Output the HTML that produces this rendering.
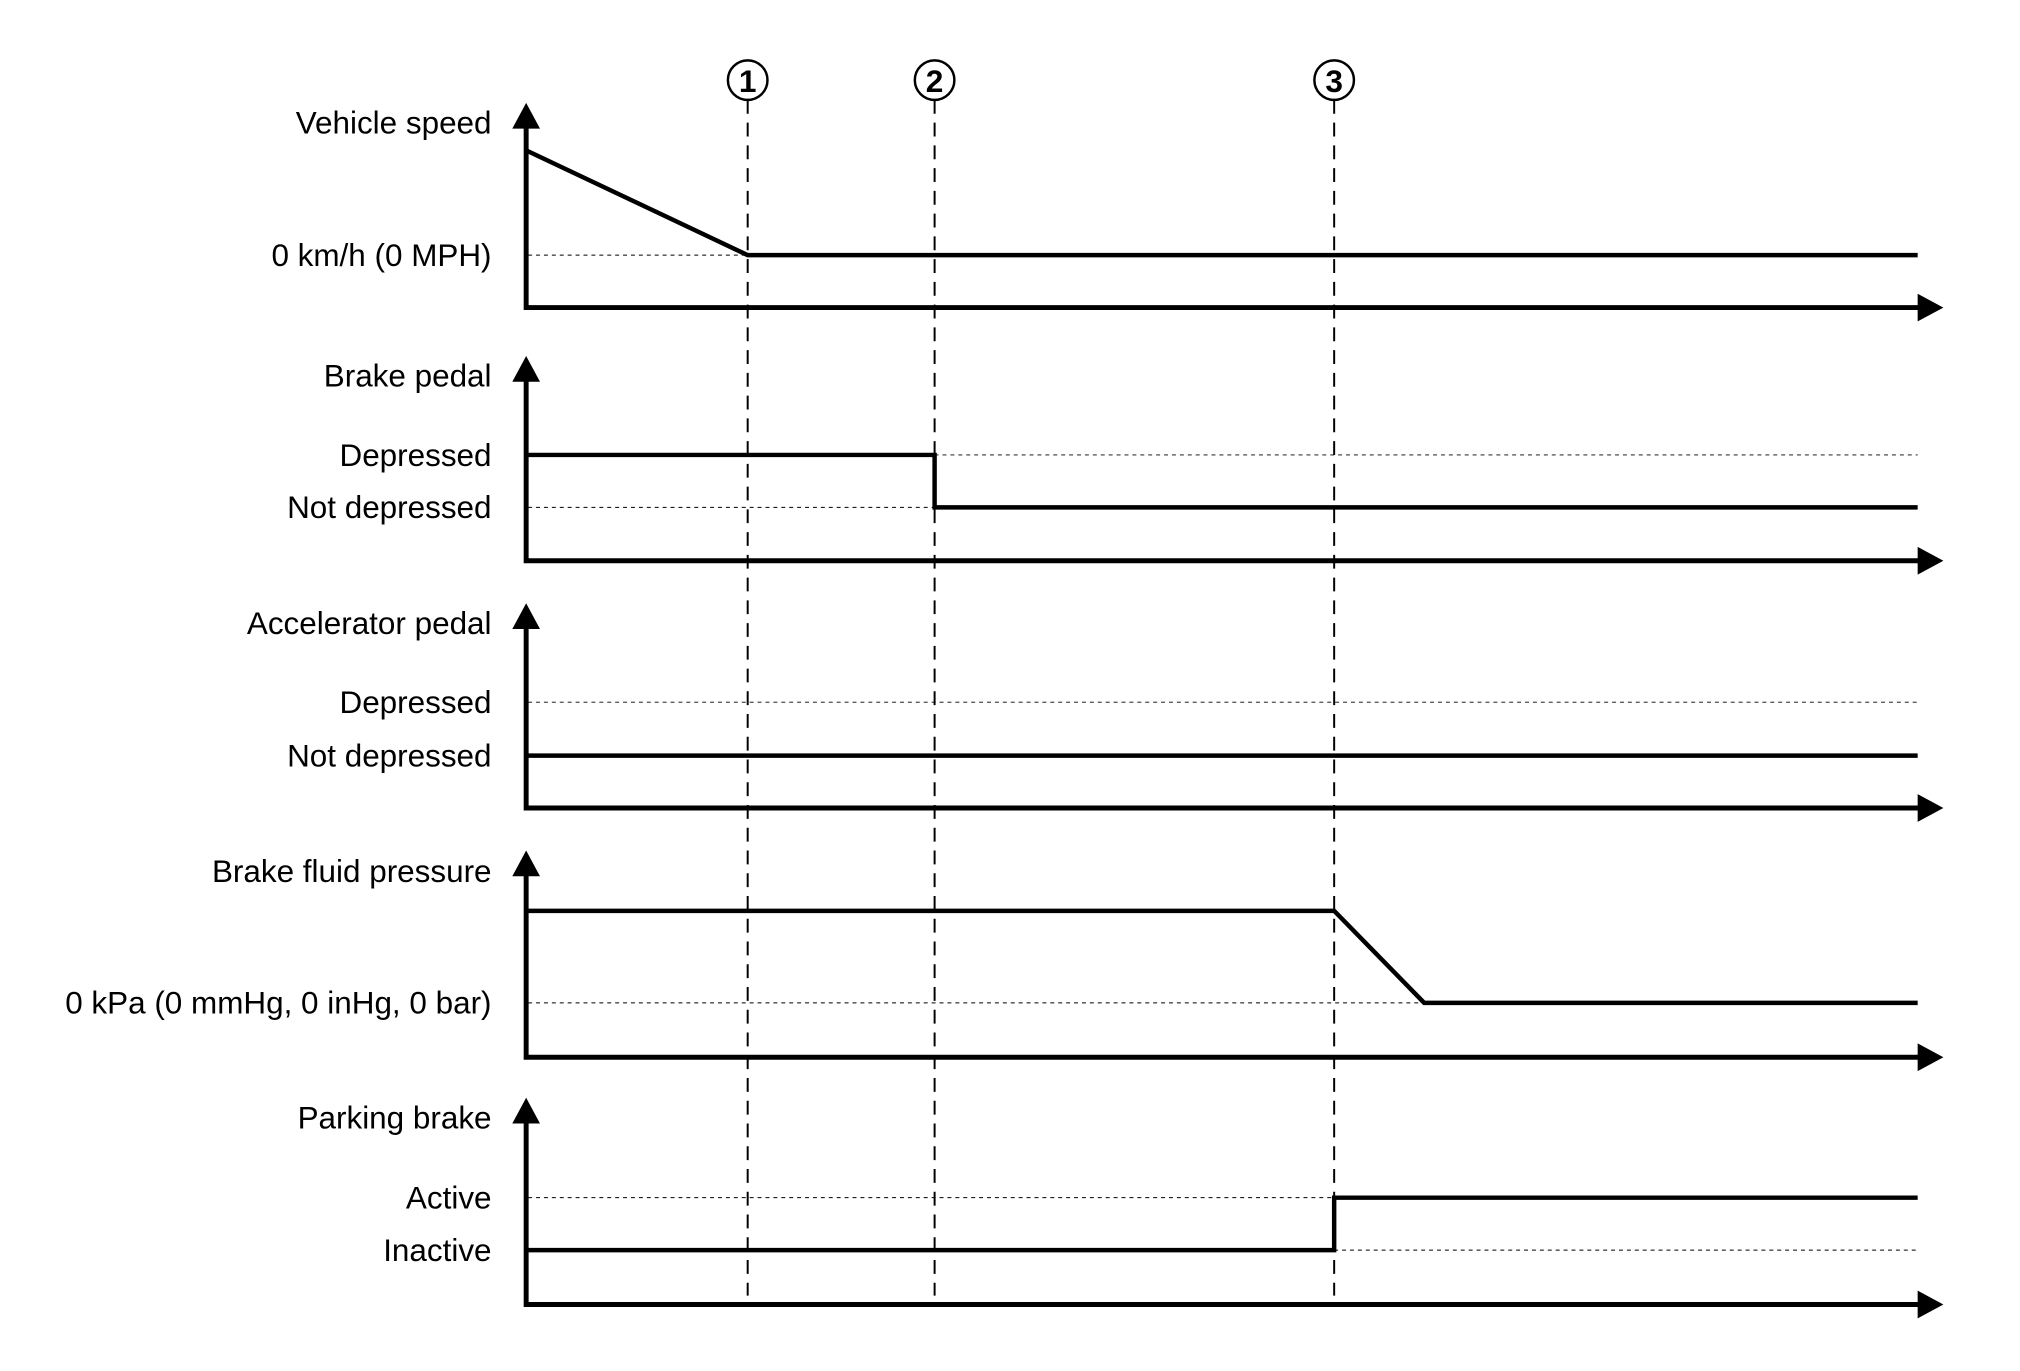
<!DOCTYPE html>
<html><head><meta charset="utf-8"><style>
html,body{margin:0;padding:0;background:#fff;}
svg{display:block;}
text{font-family:"Liberation Sans",Arial,sans-serif;font-size:31.8px;fill:#000;}
</style></head><body>
<svg width="2020" height="1371" viewBox="0 0 2020 1371" xmlns="http://www.w3.org/2000/svg">
<defs>
<g id="up"><polygon points="-14,26 14,26 0,0" fill="#000"/></g>
<g id="rt"><polygon points="0,-14 0,14 26,0" fill="#000"/></g>
</defs>
<g transform="scale(0.989)">
<g stroke="#000" stroke-width="2.5" fill="none">
<circle cx="756" cy="81" r="20"/><circle cx="945" cy="81" r="20"/><circle cx="1349" cy="81" r="20"/>
</g>
<text x="756" y="93" text-anchor="middle" style="font-size:32px;font-weight:bold">1</text>
<text x="945" y="93" text-anchor="middle" style="font-size:32px;font-weight:bold">2</text>
<text x="1349" y="93" text-anchor="middle" style="font-size:32px;font-weight:bold">3</text>
<g stroke="#000" stroke-width="2" stroke-dasharray="14,9">
<line x1="756" y1="101" x2="756" y2="1310"/>
<line x1="945" y1="101" x2="945" y2="1310"/>
<line x1="1349" y1="101" x2="1349" y2="1310"/>
</g>
<g stroke="#000" stroke-width="1" stroke-dasharray="4,4">
<line x1="534" y1="258" x2="756" y2="258"/>
<line x1="945" y1="460" x2="1939" y2="460"/>
<line x1="534" y1="513" x2="945" y2="513"/>
<line x1="534" y1="710" x2="1939" y2="710"/>
<line x1="534" y1="1014" x2="1440" y2="1014"/>
<line x1="534" y1="1211" x2="1349" y2="1211"/>
<line x1="1349" y1="1264" x2="1939" y2="1264"/>
</g>
<g stroke="#000" stroke-width="5" fill="none">
<polyline points="532,125 532,311 1945,311"/>
<polyline points="532,381 532,567 1945,567"/>
<polyline points="532,631 532,817 1945,817"/>
<polyline points="532,881 532,1069 1945,1069"/>
<polyline points="532,1131 532,1319 1945,1319"/>
</g>
<use href="#up" x="532" y="104"/><use href="#rt" x="1939" y="311"/>
<use href="#up" x="532" y="360"/><use href="#rt" x="1939" y="567"/>
<use href="#up" x="532" y="610"/><use href="#rt" x="1939" y="817"/>
<use href="#up" x="532" y="860"/><use href="#rt" x="1939" y="1069"/>
<use href="#up" x="532" y="1110"/><use href="#rt" x="1939" y="1319"/>
<g stroke="#000" stroke-width="4.5" fill="none" stroke-linejoin="miter">
<polyline points="532,152 756,258 1939,258"/>
<polyline points="532,460 945,460 945,513 1939,513"/>
<polyline points="532,764 1939,764"/>
<polyline points="532,921 1349,921 1440,1014 1939,1014"/>
<polyline points="534,1264 1349,1264 1349,1211 1939,1211"/>
</g>
<g text-anchor="end">
<text x="497" y="135">Vehicle speed</text>
<text x="497" y="269">0 km/h (0 MPH)</text>
<text x="497" y="391">Brake pedal</text>
<text x="497" y="471">Depressed</text>
<text x="497" y="524">Not depressed</text>
<text x="497" y="641">Accelerator pedal</text>
<text x="497" y="721">Depressed</text>
<text x="497" y="775">Not depressed</text>
<text x="497" y="892">Brake fluid pressure</text>
<text x="497" y="1025">0 kPa (0 mmHg, 0 inHg, 0 bar)</text>
<text x="497" y="1141">Parking brake</text>
<text x="497" y="1222">Active</text>
<text x="497" y="1275">Inactive</text>
</g>
</g>
</svg>
</body></html>
